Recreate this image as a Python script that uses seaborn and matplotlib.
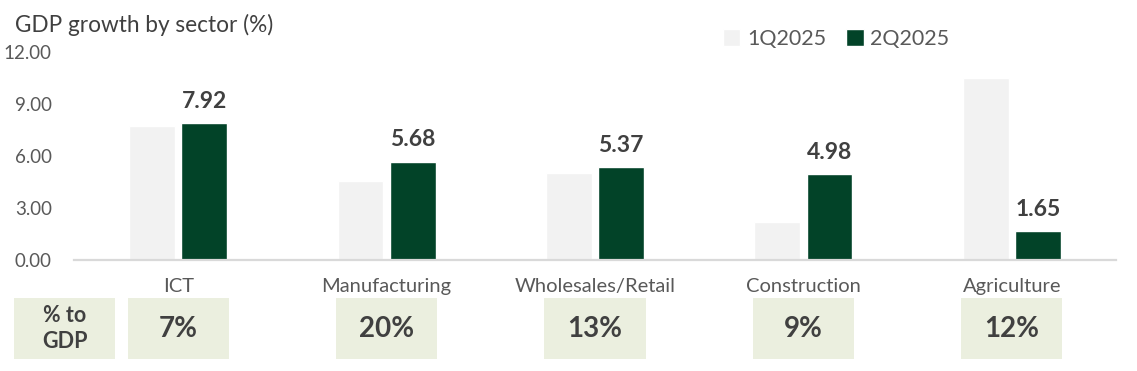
import matplotlib
matplotlib.use("Agg")
import matplotlib.pyplot as plt
import matplotlib.transforms as mtransforms
from matplotlib.patches import Rectangle
import seaborn as sns
import pandas as pd

# data
sectors = ["ICT", "Manufacturing", "Wholesales/Retail", "Construction", "Agriculture"]
q1_2025 = [7.73, 4.56, 5.02, 2.19, 10.50]
q2_2025 = [7.92, 5.68, 5.37, 4.98, 1.65]
share_of_gdp = ["7%", "20%", "13%", "9%", "12%"]
quarters = ["1Q2025", "2Q2025"]
y_ticks = [0, 3, 6, 9, 12]

df = pd.DataFrame({
    "sector": sectors * 2,
    "quarter": [quarters[0]] * len(sectors) + [quarters[1]] * len(sectors),
    "value": q1_2025 + q2_2025,
})

sns.set_style("white")
plt.rcParams["font.family"] = ["Lato", "DejaVu Sans"]

TEXT_GREY = "#595959"
DARK_TEXT = "#404040"
BOX_COLOR = "#ebefdf"

fig = plt.figure(figsize=(11.37, 3.71), dpi=100)
ax = fig.add_axes([0.0651, 0.2992, 0.9164, 0.5606])

sns.barplot(data=df, x="sector", y="value", hue="quarter", order=sectors,
            hue_order=quarters, palette=["#f2f2f2", "#024328"],
            width=0.5, gap=0.12, ax=ax, saturation=1)

ax.set_xlim(-0.5, len(sectors) - 0.5)
ax.set_ylim(0, 12)
ax.set_yticks(y_ticks)
ax.set_yticklabels([f"{v:.2f}" for v in y_ticks])
ax.set_xlabel("")
ax.set_ylabel("")
ax.tick_params(axis="y", length=0, pad=16, labelsize=13.5, labelcolor=TEXT_GREY)
ax.tick_params(axis="x", length=0, pad=13, labelsize=14.5, labelcolor=TEXT_GREY)

for side in ["left", "right", "top"]:
    ax.spines[side].set_visible(False)
ax.spines["bottom"].set_color("#d9d9d9")
ax.spines["bottom"].set_linewidth(1.6)

# value labels only for the latest quarter
ax.bar_label(ax.containers[1], fmt="%.2f", padding=8, fontsize=16.5,
             fontweight="bold", color=DARK_TEXT)

# legend
handles, labels = ax.get_legend_handles_labels()
ax.legend(handles, labels, loc="center left", bbox_to_anchor=(0.636, 0.895),
          bbox_transform=fig.transFigure, ncol=2, frameon=False,
          handlelength=0.8, handleheight=0.8, handletextpad=0.3,
          columnspacing=0.95, fontsize=15.5, borderpad=0, borderaxespad=0,
          labelcolor=TEXT_GREY)

fig.text(0.013, 0.932, "GDP growth by sector (%)", fontsize=16.3,
         color=DARK_TEXT, va="center", ha="left")

# "% to GDP" boxes below the categories
trans = mtransforms.blended_transform_factory(ax.transData, fig.transFigure)
box_w = 0.485
box_bottom = 0.032
box_h = 0.165
for i, share in enumerate(share_of_gdp):
    ax.add_patch(Rectangle((i - box_w / 2, box_bottom), box_w, box_h,
                           transform=trans, facecolor=BOX_COLOR,
                           edgecolor="none", clip_on=False))
    ax.text(i, box_bottom + box_h / 2, share, transform=trans, ha="center",
            va="center", fontsize=20, fontweight="bold", color=DARK_TEXT)

head_x = -0.544
ax.add_patch(Rectangle((head_x - box_w / 2, box_bottom), box_w, box_h,
                       transform=trans, facecolor=BOX_COLOR,
                       edgecolor="none", clip_on=False))
ax.text(head_x, box_bottom + box_h / 2, "% to\nGDP", transform=trans,
        ha="center", va="center", fontsize=15.5, fontweight="bold",
        color=DARK_TEXT, linespacing=1.3)

fig.savefig("out.png", dpi=100)
plt.close(fig)
